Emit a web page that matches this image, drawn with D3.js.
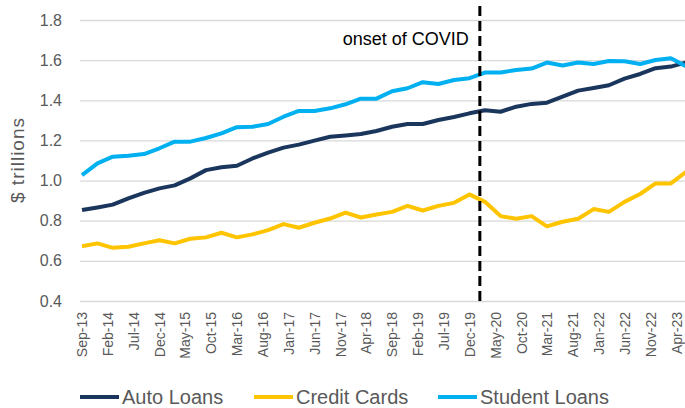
<!DOCTYPE html>
<html>
<head>
<meta charset="utf-8">
<script src="https://cdn.jsdelivr.net/npm/d3@7"></script>
<style>
  body { margin: 0; background: #fff; }
  text { font-family: "Liberation Sans", Arial, sans-serif; }
</style>
</head>
<body>
<script>
// quarterly observations
var quarters = [
    "Sep-13", "Dec-13", "Mar-14", "Jun-14", "Sep-14", "Dec-14", "Mar-15", "Jun-15",
    "Sep-15", "Dec-15", "Mar-16", "Jun-16", "Sep-16", "Dec-16", "Mar-17", "Jun-17",
    "Sep-17", "Dec-17", "Mar-18", "Jun-18", "Sep-18", "Dec-18", "Mar-19", "Jun-19",
    "Sep-19", "Dec-19", "Mar-20", "Jun-20", "Sep-20", "Dec-20", "Mar-21", "Jun-21",
    "Sep-21", "Dec-21", "Mar-22", "Jun-22", "Sep-22", "Dec-22", "Mar-23", "Jun-23"
];

var autoLoans = [0.853, 0.866, 0.880, 0.911, 0.939, 0.961, 0.976, 1.011, 1.052, 1.066,
    1.074, 1.110, 1.139, 1.164, 1.179, 1.199, 1.218, 1.225, 1.232, 1.247,
    1.268, 1.282, 1.282, 1.302, 1.317, 1.335, 1.350, 1.343, 1.368, 1.382,
    1.388, 1.418, 1.448, 1.461, 1.475, 1.508, 1.531, 1.560, 1.568, 1.589];

var creditCards = [0.673, 0.687, 0.665, 0.670, 0.687, 0.703, 0.687, 0.710, 0.717, 0.740,
    0.717, 0.732, 0.753, 0.783, 0.765, 0.790, 0.811, 0.840, 0.816, 0.831,
    0.844, 0.874, 0.851, 0.874, 0.889, 0.931, 0.894, 0.823, 0.810, 0.823,
    0.772, 0.795, 0.810, 0.858, 0.844, 0.894, 0.933, 0.986, 0.986, 1.044];

var studentLoans = [1.027, 1.086, 1.119, 1.124, 1.132, 1.161, 1.194, 1.194, 1.212, 1.235,
    1.266, 1.268, 1.282, 1.318, 1.347, 1.347, 1.360, 1.380, 1.408, 1.408,
    1.445, 1.460, 1.490, 1.481, 1.501, 1.510, 1.538, 1.538, 1.551, 1.558,
    1.588, 1.573, 1.588, 1.581, 1.596, 1.594, 1.581, 1.601, 1.609, 1.568];

var tickLabels = ["Sep-13", "Feb-14", "Jul-14", "Dec-14", "May-15", "Oct-15", "Mar-16",
    "Aug-16", "Jan-17", "Jun-17", "Nov-17", "Apr-18", "Sep-18", "Feb-19", "Jul-19",
    "Dec-19", "May-20", "Oct-20", "Mar-21", "Aug-21", "Jan-22", "Jun-22", "Nov-22", "Apr-23"];

var yTicks = [0.4, 0.6, 0.8, 1.0, 1.2, 1.4, 1.6, 1.8];
var covidDate = "2020-01-31";
var covidLabel = "onset of COVID";

var series = [
    { name: "Auto Loans", values: autoLoans, color: "#1b365d" },
    { name: "Credit Cards", values: creditCards, color: "#ffc400" },
    { name: "Student Loans", values: studentLoans, color: "#00b0f0" }
];

function init() {
    var w = 685, h = 408;
    var parse = d3.timeParse("%b-%y");

    var svg = d3.select("body").append("svg")
        .attr("width", w)
        .attr("height", h);

    var x = d3.scaleTime()
        .domain([parse(quarters[0]), parse(quarters[quarters.length - 1])])
        .range([82, 686.5]);

    var y = d3.scaleLinear()
        .domain([0.4, 1.8])
        .range([301, 20]);

    // gridlines + y labels
    var yAxis = d3.axisLeft(y)
        .tickValues(yTicks)
        .tickSize(-605)
        .tickPadding(18)
        .tickFormat(d3.format(".1f"));

    var gy = svg.append("g")
        .attr("transform", "translate(80,0)")
        .call(yAxis);
    gy.select(".domain").remove();
    gy.selectAll("line").attr("stroke", "#d9d9d9").attr("stroke-width", 1.3);
    gy.selectAll("text")
        .attr("fill", "#595959")
        .style("font-size", "16px");

    // x tick labels
    var gx = svg.append("g")
        .attr("transform", "translate(0,301)")
        .call(d3.axisBottom(x)
            .tickValues(tickLabels.map(parse))
            .tickSize(0)
            .tickFormat(d3.timeFormat("%b-%y")));
    gx.select(".domain").remove();
    gx.selectAll("text")
        .attr("fill", "#595959")
        .style("font-size", "14px")
        .attr("text-anchor", "end")
        .attr("transform", "rotate(-90)")
        .attr("x", -11)
        .attr("y", 0)
        .attr("dy", "0.35em");

    // y title
    svg.append("text")
        .attr("transform", "translate(24,160) rotate(-90)")
        .attr("text-anchor", "middle")
        .attr("fill", "#595959")
        .style("font-size", "19px")
        .style("letter-spacing", "1px")
        .text("$ trillions");

    // lines
    var line = d3.line()
        .x(function(d, i) { return x(parse(quarters[i])); })
        .y(function(d) { return y(d); });

    svg.selectAll("path.series")
        .data(series)
        .enter()
        .append("path")
        .attr("class", "series")
        .attr("d", function(d) { return line(d.values); })
        .attr("fill", "none")
        .attr("stroke", function(d) { return d.color; })
        .attr("stroke-width", 4)
        .attr("stroke-linejoin", "round");

    // COVID marker
    var cx = x(d3.timeParse("%Y-%m-%d")(covidDate));
    svg.append("line")
        .attr("x1", cx).attr("x2", cx)
        .attr("y1", 6).attr("y2", 301)
        .attr("stroke", "#000")
        .attr("stroke-width", 3)
        .attr("stroke-dasharray", "10,5");

    svg.append("text")
        .attr("x", cx - 11)
        .attr("y", 45)
        .attr("text-anchor", "end")
        .attr("fill", "#000")
        .style("font-size", "18px")
        .text(covidLabel);

    // legend
    var legendX = [80, 254, 438];
    var legend = svg.selectAll("g.legend")
        .data(series)
        .enter()
        .append("g")
        .attr("class", "legend")
        .attr("transform", function(d, i) { return "translate(" + legendX[i] + ",397)"; });

    legend.append("line")
        .attr("x1", 0).attr("x2", 39)
        .attr("stroke", function(d) { return d.color; })
        .attr("stroke-width", 4);

    legend.append("text")
        .attr("x", 42)
        .attr("dy", "0.35em")
        .attr("fill", "#595959")
        .style("font-size", "20px")
        .text(function(d) { return d.name; });
}

window.onload = init;
</script>
</body>
</html>
